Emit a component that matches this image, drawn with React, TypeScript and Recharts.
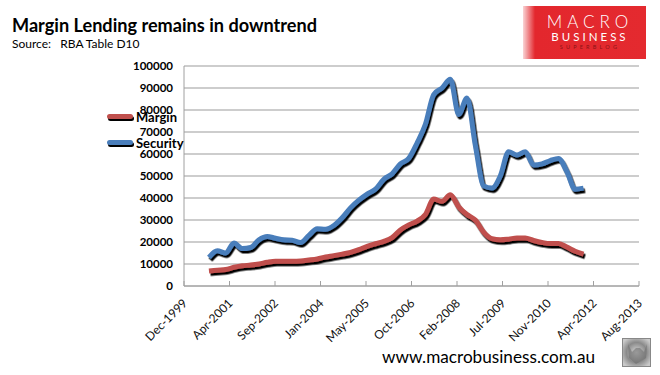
import React from 'react';
import { LineChart, Line, XAxis, YAxis, CartesianGrid, Legend } from 'recharts';

const quarters = [
  '2000-09', '2000-12', '2001-03', '2001-06', '2001-09', '2001-12', '2002-03', '2002-06', '2002-09', '2002-12',
  '2003-03', '2003-06', '2003-09', '2003-12', '2004-03', '2004-06', '2004-09', '2004-12', '2005-03', '2005-06',
  '2005-09', '2005-12', '2006-03', '2006-06', '2006-09', '2006-12', '2007-03', '2007-06', '2007-09', '2007-12',
  '2008-03', '2008-06', '2008-09', '2008-12', '2009-03', '2009-06', '2009-09', '2009-12', '2010-03', '2010-06',
  '2010-09', '2010-12', '2011-03', '2011-06', '2011-09', '2011-12',
];

const marginValues = [
  6800, 7200, 7500, 8500, 9200, 9500, 10000, 10800, 11300, 11300,
  11300, 11400, 11800, 12300, 13200, 13800, 14500, 15300, 16500, 18000,
  19200, 20300, 22000, 25500, 27800, 29500, 32500, 39500, 38500, 41500,
  36000, 32500, 30000, 24500, 21500, 21000, 21300, 21800, 21800, 20700,
  19800, 19300, 19300, 17700, 15800, 14500,
];

const securityValues = [
  13000, 16000, 15000, 19500, 17000, 17500, 21000, 22500, 21700, 21000,
  20800, 19800, 23000, 26000, 25800, 27500, 31000, 35500, 39000, 41800,
  44000, 48500, 51000, 55500, 58000, 65000, 73500, 87000, 90000, 94000,
  78000, 85500, 64000, 45500, 44500, 50000, 61000, 59500, 61000, 55000,
  55500, 57000, 58000, 52000, 44000, 44500,
];

const tickLabels = [
  'Dec-1999', 'Apr-2001', 'Sep-2002', 'Jan-2004', 'May-2005', 'Oct-2006',
  'Feb-2008', 'Jul-2009', 'Nov-2010', 'Apr-2012', 'Aug-2013',
];

const yTicks = [0, 10000, 20000, 30000, 40000, 50000, 60000, 70000, 80000, 90000, 100000];

const monthNames = ['Jan', 'Feb', 'Mar', 'Apr', 'May', 'Jun', 'Jul', 'Aug', 'Sep', 'Oct', 'Nov', 'Dec'];
const labelToYear = (l: string) => {
  const [m, y] = l.split('-');
  return Number(y) + monthNames.indexOf(m) / 12;
};
const axisStart = labelToYear(tickLabels[0]);
const axisEnd = labelToYear(tickLabels[tickLabels.length - 1]);
const tickValues = tickLabels.map((_, i) => axisStart + (i * (axisEnd - axisStart)) / (tickLabels.length - 1));

const data = quarters.map((q, i) => {
  const [y, m] = q.split('-').map(Number);
  return { t: y + (m - 1) / 12, margin: marginValues[i], security: securityValues[i] };
});

const RED = '#C0504D';
const BLUE = '#4A7EBB';
const FONT = 'Lato, "Open Sans", sans-serif';
const seriesColors: Record<string, string> = { margin: RED, security: BLUE, Margin: RED, Security: BLUE };

const XTick = (props: any) => {
  const { x, y, index } = props;
  const px = x + 4;
  const py = y + 21;
  return (
    <text x={px} y={py} transform={`rotate(-45 ${px} ${py})`} textAnchor="end" fontSize={12} fill="#111" fontFamily={FONT}>
      {tickLabels[index]}
    </text>
  );
};

const renderLegend = (props: any) => {
  const { payload } = props;
  return (
    <div style={{ fontFamily: FONT }}>
      {(payload || []).map((p: any) => {
        const c = seriesColors[p.dataKey] || seriesColors[p.value] || p.color || '#000';
        return (
          <div key={p.value} style={{ display: 'flex', alignItems: 'center', height: 26 }}>
            <div style={{ position: 'relative', width: 32, height: 12 }}>
              <div style={{ position: 'absolute', left: 4, top: 5, width: 26, height: 5, borderRadius: 3, background: '#000' }} />
              <div style={{ position: 'absolute', left: 3, top: 3, width: 26, height: 5, borderRadius: 3, background: c }} />
            </div>
            <span style={{ fontWeight: 700, fontSize: 13, color: '#000' }}>{p.value}</span>
          </div>
        );
      })}
    </div>
  );
};

export default function App() {
  return (
    <div style={{ position: 'absolute', left: 0, top: 0, width: 660, height: 375, background: '#fff', overflow: 'hidden' }}>
      <svg width={0} height={0} style={{ position: 'absolute' }}>
        <defs>
          <filter id="lineShadow" x="-10%" y="-10%" width="120%" height="130%">
            <feDropShadow dx={1.5} dy={2.5} stdDeviation={0.6} floodColor="#000" floodOpacity={1} />
          </filter>
          <radialGradient id="wolfGrad" cx="50%" cy="50%" r="60%">
            <stop offset="0%" stopColor="#d8d8d8" />
            <stop offset="60%" stopColor="#8a8a8a" />
            <stop offset="100%" stopColor="#c9c9c9" />
          </radialGradient>
        </defs>
      </svg>
      <div style={{ position: 'absolute', left: 0, top: 0 }}>
        <LineChart width={660} height={375} data={data} margin={{ top: 66, right: 21, bottom: 29, left: 0 }}>
          <CartesianGrid vertical={false} stroke="#bcbcbc" strokeWidth={1.5} />
          <XAxis
            type="number"
            dataKey="t"
            domain={[axisStart, axisEnd]}
            ticks={tickValues}
            interval={0}
            height={60}
            tickSize={-5}
            stroke="#a0a0a0"
            tick={<XTick />}
            allowDataOverflow
          />
          <YAxis
            domain={[0, 100000]}
            ticks={yTicks}
            interval={0}
            width={64}
            tickLine={false}
            tickSize={0}
            tickMargin={11}
            stroke="#a0a0a0"
            tick={{ fontWeight: 700, fill: '#000', fontSize: 11.5, fontFamily: FONT }}
          />
          <Legend
            layout="vertical"
            verticalAlign="top"
            align="left"
            content={renderLegend}
            wrapperStyle={{ position: 'absolute', left: 104, top: 104, width: 120 }}
          />
          <Line name="Margin" dataKey="margin" type="monotone" stroke={RED} strokeWidth={5} dot={false} filter="url(#lineShadow)" isAnimationActive={false} />
          <Line name="Security" dataKey="security" type="monotone" stroke={BLUE} strokeWidth={5} dot={false} filter="url(#lineShadow)" isAnimationActive={false} />
        </LineChart>
      </div>
      <svg width={660} height={375} style={{ position: 'absolute', left: 0, top: 0, pointerEvents: 'none' }}>
        <text x={12} y={32} fontFamily={FONT} fontWeight={700} fontSize={19} fill="#000" textLength={305} lengthAdjust="spacingAndGlyphs">
          Margin Lending remains in downtrend
        </text>
        <text x={12} y={48} fontFamily={FONT} fontSize={12} fill="#000" xmlSpace="preserve">
          Source:   RBA Table D10
        </text>
        <text x={382} y={363} fontFamily={FONT} fontSize={17.5} fill="#000" textLength={213} lengthAdjust="spacingAndGlyphs">
          www.macrobusiness.com.au
        </text>
        <rect x={622.5} y={338.5} width={28} height={28} fill="url(#wolfGrad)" stroke="#888" strokeWidth={1} />
        <path d="M628 344 L632 352 L636 348 L640 348 L644 352 L647 344 L646 358 L636 364 L629 358 Z" fill="#6f6f6f" opacity={0.6} />
      </svg>
      <div
        style={{
          position: 'absolute', left: 523, top: 6, width: 123, height: 53,
          background: 'linear-gradient(90deg, rgba(228,40,46,0.2) 0px, #e3272d 12px, #e42a2f 100%)',
          color: '#fff', fontFamily: FONT, textAlign: 'center',
        }}
      >
        <div style={{ position: 'absolute', left: 22, top: 7, width: 90, fontSize: 17, letterSpacing: 5, lineHeight: '17px', fontWeight: 300 }}>MACRO</div>
        <div style={{ position: 'absolute', left: 22, top: 25, width: 90, fontSize: 11.5, letterSpacing: 3, lineHeight: '12px', fontWeight: 400 }}>BUSINESS</div>
        <div style={{ position: 'absolute', left: 22, top: 38, width: 90, fontSize: 5.5, letterSpacing: 3.2, lineHeight: '6px', color: '#8a1416' }}>SUPERBLOG</div>
      </div>
    </div>
  );
}
